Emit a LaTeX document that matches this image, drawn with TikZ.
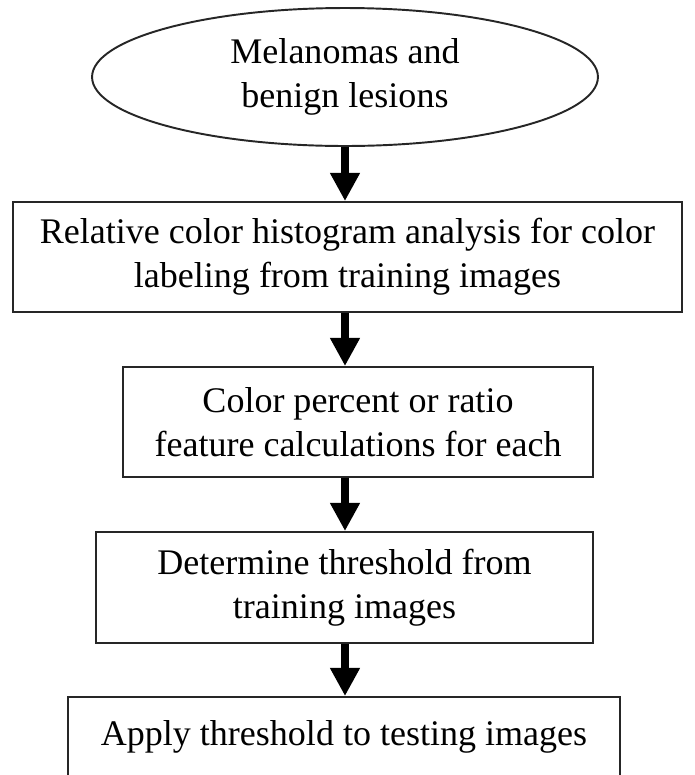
\documentclass[tikz,border=0pt]{standalone}
\usepackage{fontspec}
\setmainfont{Liberation Serif}
\usepackage{tikz}
\usetikzlibrary{shapes.geometric, arrows.meta}

\tikzset{
  stepbox/.style={draw=black!85, line width=1.1pt, rectangle, align=center,
    inner sep=0pt, font=\fontsize{20.5}{25}\selectfont},
  startnode/.style={draw=black!85, line width=1.1pt, ellipse, align=center,
    inner sep=0pt, font=\fontsize{20.5}{25}\selectfont},
  flow/.style={line width=4pt, -{Triangle[width=16pt,length=16pt]}}
}

\begin{document}
\begin{tikzpicture}[x=0.02cm, y=-0.02cm]
      \useasboundingbox (0,0) rectangle (694,775);

      % start
      \node[startnode, minimum width=10.12cm, minimum height=2.76cm] (lesion) at (345,77)
            {Melanomas and\\benign lesions};

      % steps
      \node[stepbox, minimum width=13.38cm, minimum height=2.2cm] (histo) at (347.5,257)
            {Relative color histogram analysis for color\\labeling from training images};
      \node[stepbox, minimum width=9.4cm, minimum height=2.2cm] (feature) at (358,422)
            {Color percent or ratio\\feature calculations for each};
      \node[stepbox, minimum width=9.94cm, minimum height=2.22cm] (thresh) at (344.5,587.5)
            {Determine threshold from\\training images};
      \node[stepbox, minimum width=11.04cm, minimum height=1.6cm] (apply) at (344,737)
            {Apply threshold to testing images};

      % arrows
      \draw[flow] (lesion.south) -- (lesion.south |- histo.north);
      \draw[flow] (histo.south -| lesion.south) -- (lesion.south |- feature.north);
      \draw[flow] (feature.south -| lesion.south) -- (lesion.south |- thresh.north);
      \draw[flow] (thresh.south -| lesion.south) -- (lesion.south |- apply.north);
\end{tikzpicture}
\end{document}
